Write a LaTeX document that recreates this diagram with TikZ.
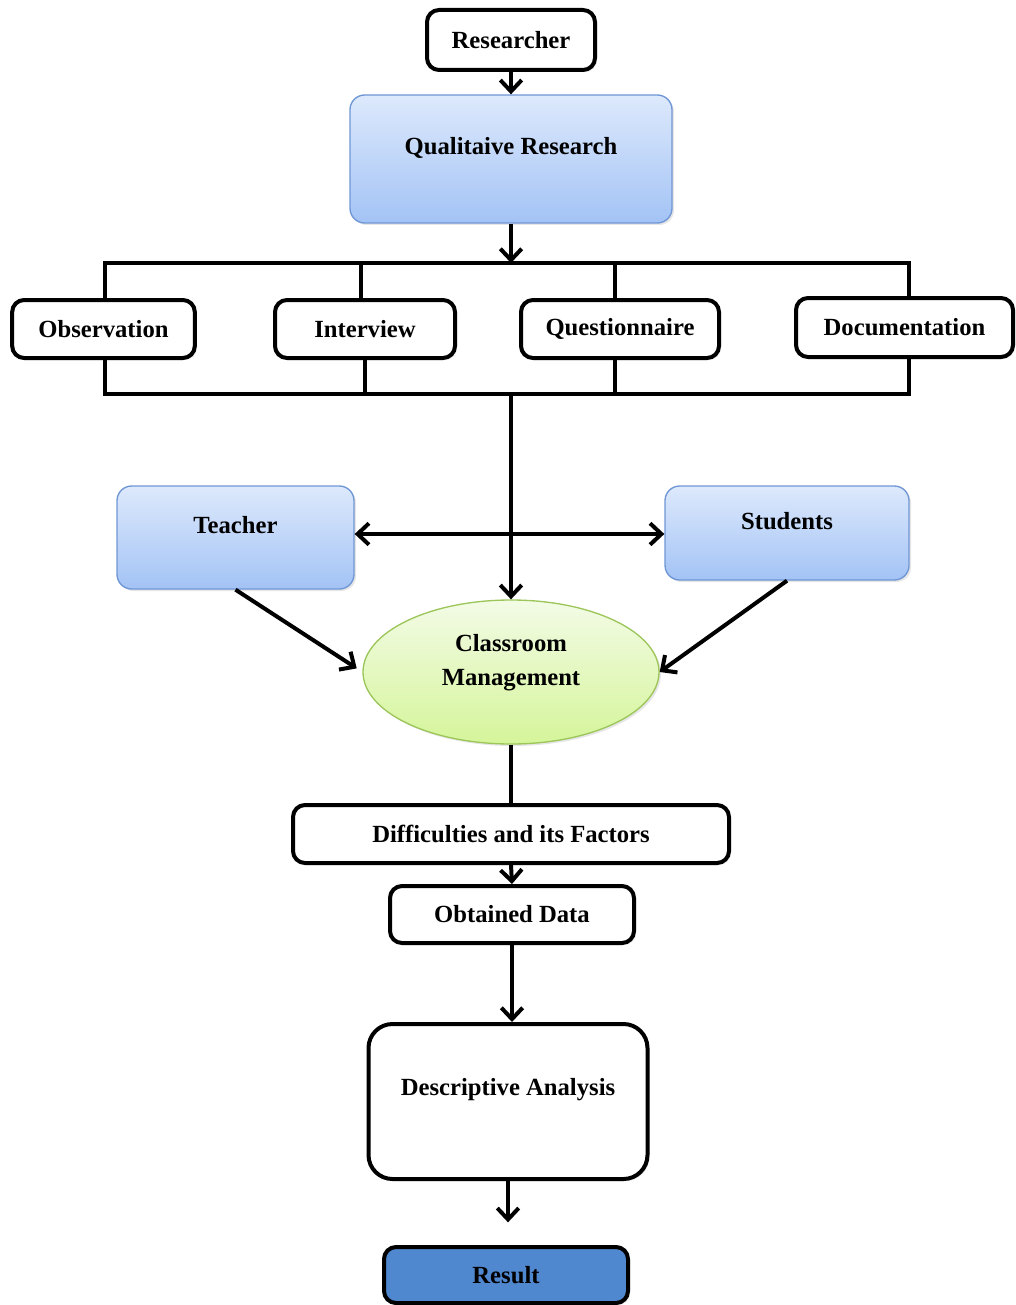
\documentclass[tikz,border=0pt]{standalone}
\usepackage{fontspec}
\setmainfont{Liberation Serif}
\usetikzlibrary{arrows.meta,shapes.geometric,shadows}
\definecolor{qtop}{HTML}{DDE9FC}
\definecolor{qbot}{HTML}{A3C3F5}
\definecolor{qedge}{HTML}{6F96D5}
\definecolor{cmtop}{HTML}{F3FBE6}
\definecolor{cmbot}{HTML}{D5F59A}
\definecolor{cmedge}{HTML}{9CC65A}
\definecolor{resblue}{HTML}{5088D0}
\begin{document}
\begin{tikzpicture}[x=0.75pt,y=-0.75pt,
    every node/.style={font=\bfseries\fontsize{18.5}{22}\selectfont},
    wbox/.style={draw,line width=3pt,rounded corners=9pt,fill=white,
      drop shadow={opacity=0.2,shadow xshift=1.5pt,shadow yshift=-1.5pt}},
    bbox/.style={draw=qedge,line width=1pt,rounded corners=11pt,top color=qtop,bottom color=qbot,
      drop shadow={opacity=0.2,shadow xshift=1.5pt,shadow yshift=-1.5pt}},
    ln/.style={line width=3pt},
    arr/.style={line width=3pt,-{Straight Barb[length=8.5pt,width=16pt]}},
    arrs/.style={line width=3pt,{Straight Barb[length=8.5pt,width=16pt]}-{Straight Barb[length=8.5pt,width=16pt]}}]
  \useasboundingbox (0,0) rectangle (1015,1305);

  % top
  \node[wbox,minimum width=126pt,minimum height=45pt] (res) at (511,40) {Researcher};
  \node[bbox,minimum width=241.5pt,minimum height=96pt,
        label={[yshift=8pt]center:Qualitaive Research}] (qual) at (511,159) {};
  \draw[arr] (res.south) -- (qual.north);

  % methods
  \node[wbox,minimum width=137pt,minimum height=43.5pt] (obs) at (103.5,329) {Observation};
  \node[wbox,minimum width=135pt,minimum height=43.5pt] (intv) at (365,329) {Interview};
  \node[wbox,minimum width=148.5pt,minimum height=43.5pt] (quest) at (620,329) {Questionnaire};
  \node[wbox,minimum width=162.75pt,minimum height=44.25pt] (doc) at (904.5,327.5) {Documentation};

  \coordinate (bustop) at (511,263);
  \coordinate (busbot) at (511,394);
  \draw[arr] (qual.south) -- (bustop);
  \draw[ln] ([xshift=1pt]obs.north) -- ([xshift=1pt]obs.north |- bustop)
    -- ([xshift=3.5pt]doc.north |- bustop) -- ([xshift=3.5pt]doc.north);
  \draw[ln] ([xshift=-3pt]intv.north) -- ([xshift=-3pt]intv.north |- bustop);
  \draw[ln] ([xshift=-3.75pt]quest.north) -- ([xshift=-3.75pt]quest.north |- bustop);
  \draw[ln] ([xshift=1pt]obs.south) -- ([xshift=1pt]obs.south |- busbot)
    -- ([xshift=3.5pt]doc.south |- busbot) -- ([xshift=3.5pt]doc.south);
  \draw[ln] (intv.south) -- (intv.south |- busbot);
  \draw[ln] ([xshift=-3.75pt]quest.south) -- ([xshift=-3.75pt]quest.south |- busbot);

  % teacher, students
  \node[bbox,minimum width=177.75pt,minimum height=77.25pt,
        label={[yshift=9.4pt]center:Teacher}] (teach) at (235.5,537.5) {};
  \node[bbox,minimum width=183pt,minimum height=70.5pt,
        label={[yshift=9pt]center:Students}] (stud) at (787,533) {};
  \node[ellipse,draw=cmedge,line width=1pt,top color=cmtop,bottom color=cmbot,
        minimum width=222pt,minimum height=108pt,
        drop shadow={opacity=0.2,shadow xshift=1.5pt,shadow yshift=-1.5pt},
        label={[yshift=7pt,align=center,font=\bfseries\fontsize{18.5}{25}\selectfont]center:Classroom\\Management}]
        (cm) at (511,672) {};

  \coordinate (cross) at (511,534);
  \draw[arr] (busbot) -- (cm.north);
  \draw[arrs] (teach.east |- cross) -- (stud.west |- cross);
  \draw[arr,shorten >=5pt] (teach.south) -- (cm.west);
  \draw[arr] (stud.south) -- (cm.east);

  % bottom
  \node[wbox,minimum width=327pt,minimum height=43.5pt] (diff) at (511,834) {Difficulties and its Factors};
  \node[wbox,minimum width=183pt,minimum height=42.75pt] (obt) at (512,914.5) {Obtained Data};
  \node[wbox,rounded corners=18pt,minimum width=209.25pt,minimum height=116.25pt,
        label={[yshift=8.6pt]center:Descriptive Analysis}] (desc) at (508,1101.5) {};
  \node[wbox,fill=resblue,minimum width=183pt,minimum height=42pt] (result) at (506,1275) {Result};

  \draw[ln] (cm.south) -- (diff.north);
  \draw[arr] (diff.south) -- (obt.north);
  \draw[arr] (obt.south) -- (obt.south |- desc.north);
  \draw[arr,shorten >=17pt] (desc.south) -- (desc.south |- result.north);
\end{tikzpicture}
\end{document}
